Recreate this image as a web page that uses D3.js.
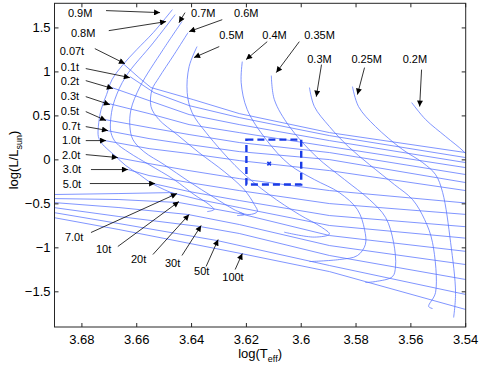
<!DOCTYPE html>
<html><head><meta charset="utf-8">
<script src="https://cdn.jsdelivr.net/npm/d3@7"></script>
<style>body{margin:0;background:#fff}svg{display:block}text{font-family:"Liberation Sans",Arial,sans-serif}</style>
</head><body>
<svg id="c" width="480" height="365"></svg>
<script>
// ---- data (log Teff, log L/Lsun) ----
const trackMasses = ["0.9M","0.8M","0.7M","0.6M","0.5M","0.4M","0.35M","0.3M","0.25M","0.2M"];
const trackPts = [
 [[3.647,1.708],[3.654,1.446],[3.660,1.253],[3.665,1.083],[3.669,0.913],[3.671,0.742],[3.673,0.572],[3.674,0.379],[3.674,0.265],[3.673,0.197],[3.6705,0.117],[3.668,0.049],[3.664,-0.065],[3.659,-0.167],[3.655,-0.258],[3.650,-0.338],[3.6475,-0.372],[3.646,-0.394],[3.648,-0.406]],
 [[3.646,1.651],[3.654,1.33],[3.664,0.947],[3.668,0.685],[3.6694,0.492],[3.6694,0.31],[3.6676,0.197],[3.6628,0.083],[3.6555,-0.054],[3.6464,-0.224],[3.6391,-0.394],[3.6336,-0.508],[3.6318,-0.565],[3.6343,-0.588]],
 [[3.6435,1.572],[3.6504,1.253],[3.6588,0.833],[3.6621,0.572],[3.6625,0.379],[3.6614,0.231],[3.6574,0.094],[3.650,-0.054],[3.6409,-0.247],[3.6318,-0.428],[3.6245,-0.565],[3.6208,-0.622],[3.6234,-0.633]],
 [[3.6413,1.446],[3.6464,1.196],[3.6519,0.935],[3.6544,0.799],[3.6548,0.606],[3.6519,0.458],[3.6453,0.288],[3.6373,0.083],[3.6281,-0.133],[3.6208,-0.338],[3.6171,-0.508],[3.616,-0.588],[3.619,-0.622],[3.6226,-0.599]],
 [[3.638,1.288],[3.6409,1.06],[3.6416,0.765],[3.6398,0.537],[3.6347,0.31],[3.6226,-0.111],[3.6117,-0.394],[3.6007,-0.622],[3.5926,-0.765],[3.5897,-0.844],[3.5952,-0.878],[3.6062,-0.822]],
 [[3.6215,1.117],[3.6219,0.878],[3.6197,0.572],[3.6128,0.231],[3.6043,-0.054],[3.5952,-0.224],[3.5861,-0.372],[3.5795,-0.565],[3.5769,-0.792],[3.5766,-0.962],[3.5795,-1.088],[3.5861,-1.133],[3.597,-1.156]],
 [[3.6109,0.958],[3.6098,0.685],[3.6043,0.379],[3.5945,0.037],[3.5842,-0.224],[3.5751,-0.451],[3.5692,-0.656],[3.5663,-0.94],[3.5656,-1.213],[3.5667,-1.327],[3.5729,-1.383],[3.5766,-1.394]],
 [[3.597,0.822],[3.5952,0.606],[3.5897,0.379],[3.5828,0.151],[3.5751,-0.054],[3.566,-0.281],[3.5594,-0.451],[3.555,-0.678],[3.5521,-0.94],[3.551,-1.508],[3.5535,-1.667],[3.5521,-1.69]],
 [[3.5813,0.833],[3.5791,0.606],[3.5729,0.379],[3.563,0.117],[3.5557,-0.031],[3.551,-0.167],[3.5484,-0.372],[3.5455,-0.94],[3.5437,-1.508],[3.5444,-1.792]],
 [[3.5597,0.651],[3.5546,0.458],[3.5473,0.265],[3.5407,0.094],[3.5367,-0.054]]
];
const isoAges = ["0.07t","0.1t","0.2t","0.3t","0.5t","0.7t","1.0t","2.0t","3.0t","5.0t","7.0t","10t","20t","30t","50t","100t"];
const isoPts = [
 [[3.6654,1.106],[3.6592,0.935],[3.6548,0.822],[3.6394,0.685],[3.6226,0.526],[3.5897,0.31],[3.54,0.083]],
 [[3.6625,0.947],[3.6537,0.765],[3.6409,0.617],[3.6226,0.481],[3.5897,0.276],[3.54,0.026]],
 [[3.6691,0.822],[3.6555,0.674],[3.6409,0.515],[3.6226,0.401],[3.5897,0.219],[3.54,-0.031]],
 [[3.6702,0.64],[3.6555,0.526],[3.6409,0.401],[3.6226,0.31],[3.5897,0.151],[3.54,-0.088]],
 [[3.6716,0.458],[3.6555,0.367],[3.6409,0.288],[3.6226,0.197],[3.5897,0.083],[3.54,-0.167]],
 [[3.6709,0.333],[3.6555,0.242],[3.6409,0.174],[3.6226,0.094],[3.5897,0.003],[3.54,-0.258]],
 [[3.6716,0.219],[3.6555,0.128],[3.6409,0.072],[3.6226,-0.008],[3.5897,-0.122],[3.54,-0.349]],
 [[3.6672,0.026],[3.6555,-0.042],[3.6409,-0.122],[3.6226,-0.213],[3.5897,-0.349],[3.54,-0.49]],
 [[3.6632,-0.110],[3.6555,-0.178],[3.6409,-0.258],[3.6226,-0.349],[3.5897,-0.497],[3.54,-0.62]],
 [[3.6541,-0.269],[3.6409,-0.36],[3.6226,-0.462],[3.5897,-0.633],[3.54,-0.76]],
 [[3.6903,-0.394],[3.6665,-0.383],[3.6475,-0.372],[3.6373,-0.451],[3.6226,-0.542],[3.5897,-0.746],[3.54,-0.89]],
 [[3.6903,-0.44],[3.6665,-0.451],[3.6446,-0.485],[3.6226,-0.610],[3.5897,-0.860],[3.54,-1.04]],
 [[3.6903,-0.485],[3.6665,-0.542],[3.6413,-0.621],[3.6226,-0.735],[3.5897,-0.974],[3.54,-1.19]],
 [[3.6903,-0.542],[3.6665,-0.644],[3.6369,-0.758],[3.6226,-0.837],[3.5897,-1.087],[3.54,-1.36]],
 [[3.6903,-0.599],[3.6665,-0.724],[3.6307,-0.917],[3.5897,-1.201],[3.54,-1.53]],
 [[3.6903,-0.656],[3.6665,-0.792],[3.6219,-1.065],[3.5897,-1.27],[3.54,-1.701]]
];
// annotation: [text x, text y, arrow from x, from y, arrow to x, to y] in data units
const massLabelPos = [
 [3.6851,1.674,3.6712,1.697,3.6515,1.674],
 [3.684,1.447,3.6702,1.469,3.6493,1.572],
 [3.6402,1.674,3.6424,1.674,3.6446,1.56],
 [3.6245,1.674,3.6288,1.594,3.6409,1.458],
 [3.6299,1.424,3.6299,1.288,3.6391,1.163],
 [3.6142,1.424,3.6124,1.344,3.6201,1.14],
 [3.5989,1.424,3.6007,1.344,3.6091,0.992],
 [3.5978,1.151,3.5926,1.083,3.5945,0.719],
 [3.5817,1.151,3.5769,1.049,3.5795,0.742],
 [3.563,1.151,3.5561,1.026,3.5568,0.606]
];
const ageLabelPos = [
 [3.6881,1.242,3.6753,1.265,3.6643,1.094],
 [3.6877,1.060,3.6786,1.038,3.6625,0.935],
 [3.6877,0.901,3.6786,0.901,3.6687,0.810],
 [3.6877,0.731,3.6786,0.719,3.6698,0.628],
 [3.6877,0.56,3.6786,0.549,3.6712,0.447],
 [3.6873,0.390,3.6786,0.378,3.6705,0.333],
 [3.6873,0.231,3.6786,0.219,3.6712,0.219],
 [3.6873,0.06,3.6786,0.06,3.6669,0.026],
 [3.6870,-0.099,3.6767,-0.110,3.6632,-0.110],
 [3.6870,-0.269,3.6771,-0.269,3.6533,-0.269],
 [3.6862,-0.872,3.6767,-0.826,3.6453,-0.383],
 [3.6749,-1.008,3.6669,-0.985,3.6446,-0.474],
 [3.6621,-1.122,3.6541,-1.076,3.6409,-0.621],
 [3.6497,-1.178,3.6435,-1.087,3.6365,-0.746],
 [3.6391,-1.269,3.6347,-1.212,3.6303,-0.906],
 [3.6288,-1.326,3.6241,-1.247,3.6215,-1.065]
];
const boxT = [3.60, 3.62];
const boxL = [-0.28, 0.23];
const starPt = [3.6117, -0.042];
const xTicks = [3.68,3.66,3.64,3.62,3.6,3.58,3.56,3.54];
const yTicks = [-1.5,-1,-0.5,0,0.5,1,1.5];

// ---- drawing ----
const svg = d3.select("#c");
const L = 54.5, R = 465.7, T = 3.3, B = 327;
const x = d3.scaleLinear().domain([3.69, 3.54]).range([L, R]);
const y = d3.scaleLinear().domain([-1.9, 1.78]).range([B, T]);
const blue = "#5572ff";

svg.append("defs").append("clipPath").attr("id","clip")
  .append("rect").attr("x",L).attr("y",T).attr("width",R-L).attr("height",B-T);
svg.select("defs").append("marker").attr("id","ah").attr("viewBox","0 0 10 10")
  .attr("refX",10).attr("refY",5).attr("markerWidth",7).attr("markerHeight",6)
  .attr("markerUnits","userSpaceOnUse").attr("orient","auto")
  .append("path").attr("d","M0,0L10,5L0,10z").attr("fill","#000");

const g = svg.append("g").attr("clip-path","url(#clip)");
const smooth = d3.line().x(d=>x(d[0])).y(d=>y(d[1])).curve(d3.curveCatmullRom.alpha(0.5));
const lin = d3.line().x(d=>x(d[0])).y(d=>y(d[1]));

g.selectAll(".iso").data(isoPts).join("path").attr("class","iso")
  .attr("d",lin).attr("fill","none").attr("stroke",blue).attr("stroke-width",0.75);
g.selectAll(".trk").data(trackPts).join("path").attr("class","trk")
  .attr("d",smooth).attr("fill","none").attr("stroke",blue).attr("stroke-width",0.75);

g.append("rect").attr("x",x(boxT[1])).attr("y",y(boxL[1]))
  .attr("width",x(boxT[0])-x(boxT[1])).attr("height",y(boxL[0])-y(boxL[1]))
  .attr("fill","none").attr("stroke","#1a3be6").attr("stroke-width",2.4).attr("stroke-dasharray","7,4");
g.append("path").attr("d",d3.symbol(d3.symbolCross, 14)())
  .attr("transform",`translate(${x(starPt[0])},${y(starPt[1])}) rotate(45)`).attr("fill","#1a3be6");

// axes box
const ax = svg.append("g");
ax.append("rect").attr("x",L).attr("y",T).attr("width",R-L).attr("height",B-T)
  .attr("fill","none").attr("stroke","#262626").attr("stroke-width",1);
xTicks.forEach(t=>{
  ax.append("line").attr("x1",x(t)).attr("x2",x(t)).attr("y1",B).attr("y2",B-4).attr("stroke","#262626");
  ax.append("line").attr("x1",x(t)).attr("x2",x(t)).attr("y1",T).attr("y2",T+4).attr("stroke","#262626");
  ax.append("text").attr("x",x(t)).attr("y",B+17).attr("text-anchor","middle").attr("font-size",13).text(d3.format("")(t));
});
yTicks.forEach(t=>{
  ax.append("line").attr("x1",L).attr("x2",L+4).attr("y1",y(t)).attr("y2",y(t)).attr("stroke","#262626");
  ax.append("line").attr("x1",R).attr("x2",R-4).attr("y1",y(t)).attr("y2",y(t)).attr("stroke","#262626");
  ax.append("text").attr("x",L-4).attr("y",y(t)+4.5).attr("text-anchor","end").attr("font-size",13).text(t<0?"\u2212"+Math.abs(t):String(t));
});
const xl = ax.append("text").attr("x",(L+R)/2).attr("y",358).attr("text-anchor","middle").attr("font-size",13);
xl.append("tspan").text("log(T");
xl.append("tspan").attr("font-size",9).attr("dy",4).text("eff");
xl.append("tspan").attr("dy",-4).text(")");
const yl = ax.append("text").attr("transform",`translate(18,160) rotate(-90)`).attr("text-anchor","middle").attr("font-size",13);
yl.append("tspan").text("log(L/L");
yl.append("tspan").attr("font-size",9).attr("dy",4).text("sun");
yl.append("tspan").attr("dy",-4).text(")");

// annotations
function annotate(labels, pos){
  const a = svg.append("g");
  labels.forEach((lab,i)=>{
    const p = pos[i];
    a.append("line").attr("x1",x(p[2])).attr("y1",y(p[3])).attr("x2",x(p[4])).attr("y2",y(p[5]))
      .attr("stroke","#000").attr("stroke-width",0.8).attr("marker-end","url(#ah)");
    a.append("text").attr("x",x(p[0])).attr("y",y(p[1])+4).attr("font-size",11).attr("fill","#000").text(lab);
  });
}
annotate(trackMasses, massLabelPos);
annotate(isoAges, ageLabelPos);
</script>
</body></html>
